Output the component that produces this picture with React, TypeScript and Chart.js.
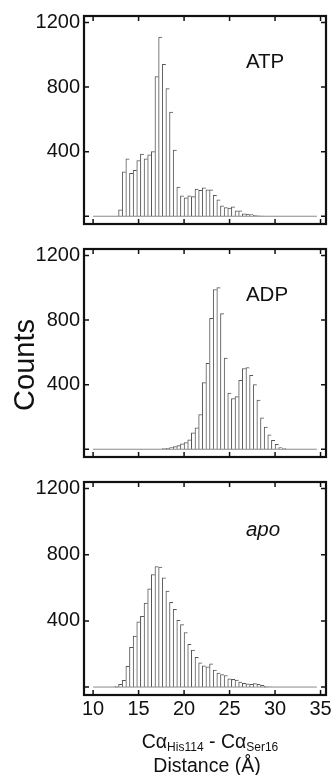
import React, { useEffect, useRef } from "react";
import { Chart, registerables } from "chart.js";

Chart.register(...registerables);

// ---- data (histograms, 0.4 Å bins; first bin centre given per series) ----
const BIN_WIDTH = 0.4;

const atpFirstBin = 13.0;
const atpCounts = [
  40, 275, 355, 265, 285, 345, 385, 355, 380, 400, 865, 1110, 940, 790, 645, 410,
  180, 126, 114, 126, 122, 168, 160, 176, 163, 163, 129, 102, 64, 54, 51, 58,
  34, 33, 15, 14, 10, 5, 3, 1,
];

const adpFirstBin = 17.8;
const adpCounts = [
  4, 6, 10, 16, 22, 34, 42, 58, 102, 133, 215, 413, 532, 810, 989, 1001, 840,
  565, 348, 314, 326, 426, 500, 506, 458, 400, 305, 195, 138, 90, 55, 30, 10, 4,
];

const apoFirstBin = 12.6;
const apoCounts = [
  5, 16, 40, 125, 240, 308, 394, 428, 508, 594, 680, 729, 726, 660, 581, 512,
  470, 403, 378, 330, 259, 223, 180, 147, 129, 122, 140, 103, 85, 75, 70, 50,
  46, 42, 30, 22, 20, 17, 21, 16, 10, 6, 2,
];

const zeroLineRange = [10, 34.6];
const xTickValues = [10, 15, 20, 25, 30, 35];
const yTickValues = [0, 400, 800, 1200];
const panelLabels = ["ATP", "ADP", "apo"];
const labelAnchor = [26.8, 915];
const yAxisTitle = "Counts";
const xTitleLine1: [string, boolean][] = [
  ["Cα", false],
  ["His114", true],
  [" - Cα", false],
  ["Ser16", true],
];
const xTitleLine2 = "Distance (Å)";

// ---- styling ----
const FONT = '"Liberation Sans", Arial, Helvetica, sans-serif';
const TEXT = "#111";

type PanelProps = {
  counts: number[];
  first: number;
  label: string;
  italic: boolean;
  top: number;
  height: number;
  padTop: number;
  xAxisH: number;
  showX: boolean;
  showYTitle: boolean;
};

function Panel(p: PanelProps) {
  const ref = useRef<HTMLCanvasElement>(null);

  useEffect(() => {
    const canvas = ref.current;
    if (!canvas) return;
    const bars = p.counts.map((c, i) => ({
      x: +(p.first + i * BIN_WIDTH).toFixed(2),
      y: c,
    }));
    const last = bars.length - 1;

    const framePlugin = {
      id: "frameAndText",
      afterDraw(chart: any) {
        const { ctx, chartArea: a, scales } = chart;
        const xs = scales.x;
        const ys = scales.y;
        ctx.save();
        ctx.strokeStyle = TEXT;
        ctx.lineWidth = 1.5;
        ctx.beginPath();
        xs.ticks.forEach((t: any) => {
          const px = xs.getPixelForValue(t.value);
          ctx.moveTo(px, a.bottom);
          ctx.lineTo(px, a.bottom - 5);
          ctx.moveTo(px, a.top);
          ctx.lineTo(px, a.top + 5);
        });
        ys.ticks.forEach((t: any) => {
          const py = ys.getPixelForValue(t.value);
          ctx.moveTo(a.left, py);
          ctx.lineTo(a.left + 5, py);
          ctx.moveTo(a.right, py);
          ctx.lineTo(a.right - 5, py);
        });
        ctx.stroke();
        ctx.lineWidth = 2.2;
        ctx.strokeRect(a.left, a.top, a.right - a.left, a.bottom - a.top);

        // panel label
        ctx.fillStyle = TEXT;
        ctx.font = `${p.italic ? "italic " : ""}20.5px ${FONT}`;
        ctx.textAlign = "left";
        ctx.textBaseline = "alphabetic";
        ctx.fillText(
          p.label,
          xs.getPixelForValue(labelAnchor[0]),
          ys.getPixelForValue(labelAnchor[1])
        );

        if (p.showYTitle) {
          ctx.save();
          ctx.translate(34, (a.top + a.bottom) / 2 + 12);
          ctx.rotate(-Math.PI / 2);
          ctx.font = `29px ${FONT}`;
          ctx.textAlign = "center";
          ctx.textBaseline = "alphabetic";
          ctx.fillText(yAxisTitle, 0, 0);
          ctx.restore();
        }

        if (p.showX) {
          const cx = (a.left + a.right) / 2 + 5;
          const mainF = `19.5px ${FONT}`;
          const subF = `12px ${FONT}`;
          let total = 0;
          xTitleLine1.forEach(([s, sub]) => {
            ctx.font = sub ? subF : mainF;
            total += ctx.measureText(s).width;
          });
          let x = cx - total / 2;
          const base1 = a.bottom + 53;
          ctx.textAlign = "left";
          xTitleLine1.forEach(([s, sub]) => {
            ctx.font = sub ? subF : mainF;
            ctx.fillText(s, x, sub ? base1 + 3 : base1);
            x += ctx.measureText(s).width;
          });
          ctx.font = mainF;
          ctx.textAlign = "center";
          ctx.fillText(xTitleLine2, cx - 3, a.bottom + 76.5);
        }
        ctx.restore();
      },
    };

    const chart = new Chart(canvas, {
      type: "bar",
      data: {
        datasets: [
          {
            type: "line",
            data: zeroLineRange.map((v) => ({ x: v, y: 0 })),
            borderColor: "#8a8a8a",
            borderWidth: 1,
            pointRadius: 0,
            order: 0,
          } as any,
          {
            type: "bar",
            data: bars,
            backgroundColor: "#ffffff",
            borderColor: "#555555",
            borderWidth: (ctx: any) => ({
              top: 1,
              left: 1,
              right: ctx.dataIndex === last ? 1 : 0,
              bottom: 0,
            }),
            barPercentage: 1,
            categoryPercentage: 1,
            order: 1,
          } as any,
        ],
      },
      options: {
        responsive: false,
        animation: false,
        events: [],
        layout: { padding: { left: 0, right: 10, top: p.padTop, bottom: 0 } },
        plugins: { legend: { display: false }, tooltip: { enabled: false } },
        scales: {
          x: {
            type: "linear",
            min: 9,
            max: 35.6,
            offset: false,
            grid: { display: false, drawTicks: false },
            border: { display: false },
            afterBuildTicks: (s: any) => {
              s.ticks = xTickValues.map((v) => ({ value: v }));
            },
            afterFit: (s: any) => {
              s.height = p.xAxisH;
            },
            ticks: {
              display: p.showX,
              autoSkip: false,
              maxRotation: 0,
              padding: 2,
              color: TEXT,
              font: { family: FONT, size: 20 },
              callback: (v: any) => String(v),
            },
          },
          y: {
            type: "linear",
            min: -48,
            max: 1240,
            grid: { display: false, drawTicks: false },
            border: { display: false },
            afterBuildTicks: (s: any) => {
              s.ticks = yTickValues.map((v) => ({ value: v }));
            },
            afterFit: (s: any) => {
              s.width = 84;
            },
            ticks: {
              padding: 4,
              color: TEXT,
              font: { family: FONT, size: 20 },
              callback: (v: any) => (v === 0 ? "" : String(v)),
            },
          },
        },
      } as any,
      plugins: [framePlugin],
    });
    return () => chart.destroy();
  }, []);

  return (
    <canvas
      ref={ref}
      width={336}
      height={p.height}
      style={{ position: "absolute", left: 0, top: p.top, width: 336, height: p.height }}
    />
  );
}

export default function App() {
  return (
    <div
      style={{
        position: "fixed",
        left: 0,
        top: 0,
        width: 336,
        height: 775,
        background: "#fff",
        overflow: "hidden",
      }}
    >
      <Panel counts={atpCounts} first={atpFirstBin} label={panelLabels[0]} italic={false}
        top={0} height={240} padTop={14} xAxisH={10} showX={false} showYTitle={false} />
      <Panel counts={adpCounts} first={adpFirstBin} label={panelLabels[1]} italic={false}
        top={233} height={240} padTop={13} xAxisH={11} showX={false} showYTitle={true} />
      <Panel counts={apoCounts} first={apoFirstBin} label={panelLabels[2]} italic={true}
        top={466} height={309} padTop={13} xAxisH={80} showX={true} showYTitle={false} />
    </div>
  );
}
